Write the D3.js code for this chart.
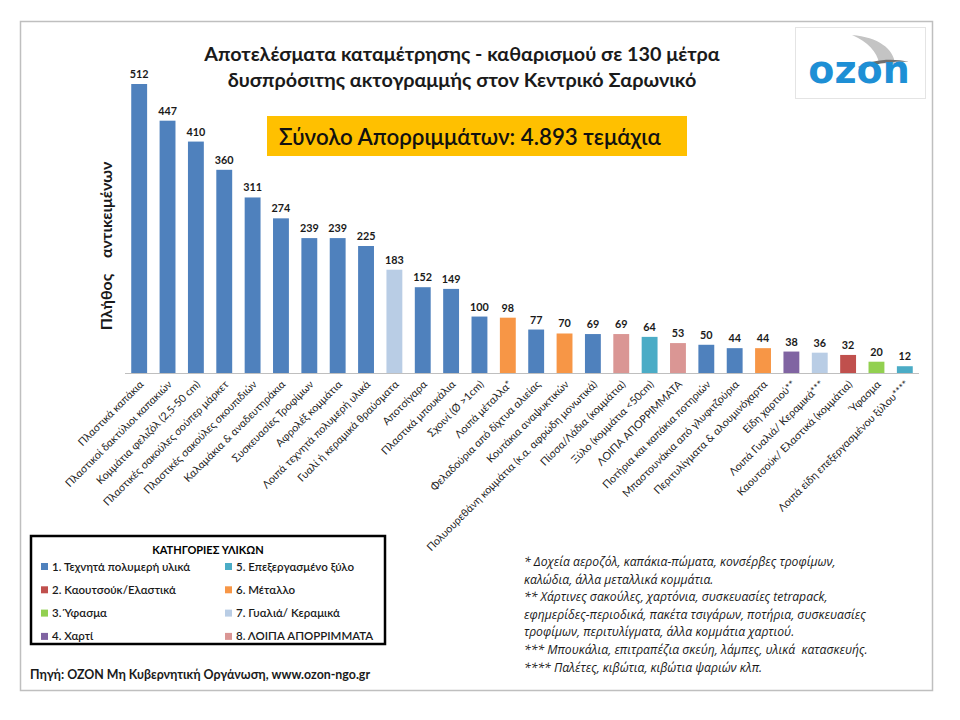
<!DOCTYPE html>
<html>
<head>
<meta charset="utf-8">
<script src="https://cdn.jsdelivr.net/npm/d3@7"></script>
<style>
  body { margin: 0; background: #fff; }
  svg { font-family: Lato, "Open Sans", sans-serif; }
</style>
</head>
<body>
<svg id="chart" width="960" height="720"></svg>
<script>
// --- data ---
const items = [
  "Πλαστικά καπάκια", "Πλαστικοί δακτύλιοι καπακιών", "Κομμάτια φελιζόλ (2,5-50 cm)",
  "Πλαστικές σακούλες σούπερ μάρκετ", "Πλαστικές σακούλες σκουπιδιών", "Καλαμάκια  & αναδευτηράκια",
  "Συσκευασίες Τροφίμων", "Αφρολέξ κομμάτια", "Λοιπά τεχνητά πολυμερή υλικά",
  "Γυαλί ή κεραμικά θραύσματα", "Αποτσίγαρα", "Πλαστικά μπουκάλια", "Σχοινί (Ø >1cm)",
  "Λοιπά μέταλλα*", "Φελαδούρια από δίχτυα αλιείας", "Κουτάκια αναψυκτικών",
  "Πολυουρεθάνη κομμάτια (κ.α. αφρώδη μονωτικά)", "Πίσσα/Λάδια (κομμάτια)",
  "Ξύλο (κομμάτια <50cm)", "ΛΟΙΠΑ ΑΠΟΡΡΙΜΜΑΤΑ", "Ποτήρια και καπάκια ποτηριών",
  "Μπαστουνάκια από γλυφιτζούρια", "Περιτυλίγματα & αλουμινόχαρτα", "Είδη χαρτιού**",
  "Λοιπά Γυαλιά/ Κεραμικά***", "Καουτσούκ/ Ελαστικά (κομμάτια)", "Ύφασμα",
  "Λοιπά είδη επεξεργασμένου ξύλου****"
];
const counts = [512, 447, 410, 360, 311, 274, 239, 239, 225, 183, 152, 149, 100, 98, 77,
  70, 69, 69, 64, 53, 50, 44, 44, 38, 36, 32, 20, 12];
// material category of each item (1..8)
const itemGroup = [1, 1, 1, 1, 1, 1, 1, 1, 1, 7, 1, 1, 1, 6, 1, 6, 1, 8, 5, 8, 1, 1, 6, 4, 7, 2, 3, 5];

const groups = [
  "1. Τεχνητά πολυμερή υλικά", "2. Καουτσούκ/Ελαστικά", "3. Ύφασμα", "4. Χαρτί",
  "5. Επεξεργασμένο ξύλο", "6. Μέταλλο", "7. Γυαλιά/ Κεραμικά", "8. ΛΟΙΠΑ ΑΠΟΡΡΙΜΜΑΤΑ"
];
const groupColors = ["#4F81BD", "#C0504D", "#92D050", "#8064A2", "#4BACC6", "#F79646", "#B9CDE5", "#DA9694"];

const titleLines = [
  "Αποτελέσματα καταμέτρησης - καθαρισμού σε 130 μέτρα",
  "δυσπρόσιτης ακτογραμμής στον Κεντρικό Σαρωνικό"
];
const totalText = "Σύνολο Απορριμμάτων: 4.893 τεμάχια";
const notes = [
  "* Δοχεία αεροζόλ, καπάκια-πώματα, κονσέρβες τροφίμων,",
  "καλώδια, άλλα μεταλλικά κομμάτια.",
  "** Χάρτινες σακούλες, χαρτόνια, συσκευασίες tetrapack,",
  "εφημερίδες-περιοδικά, πακέτα τσιγάρων, ποτήρια, συσκευασίες",
  "τροφίμων, περιτυλίγματα, άλλα κομμάτια χαρτιού.",
  "*** Μπουκάλια, επιτραπέζια σκεύη, λάμπες, υλικά  κατασκευής.",
  "**** Παλέτες, κιβώτια, κιβώτια ψαριών κλπ."
];
const sourceText = "Πηγή: ΟΖΟΝ Μη Κυβερνητική Οργάνωση, www.ozon-ngo.gr";

const svg = d3.select("#chart");

// slide frame
svg.append("rect")
  .attr("x", 20.5).attr("y", 21.5).attr("width", 912).attr("height", 669)
  .attr("fill", "none").attr("stroke", "#BFBFBF").attr("stroke-width", 1.5);

// logo
const logo = svg.append("g");
logo.append("rect")
  .attr("x", 795.5).attr("y", 27.5).attr("width", 130).attr("height", 71)
  .attr("fill", "#fff").attr("stroke", "#E4E4E4");
logo.append("path")
  .attr("d", "M852,35 C878,37 894,49 895,64 L879,63 C877,52 868,42 852,35 Z")
  .attr("fill", "#C4C4C4");
logo.append("path")
  .attr("d", "M858,67 C874,59 893,58 909,62 C893,61 876,63 862,69 Z")
  .attr("fill", "#6F6F6F");
logo.append("text")
  .attr("x", 859).attr("y", 83)
  .attr("text-anchor", "middle")
  .attr("font-family", "'DejaVu Sans', sans-serif")
  .attr("font-weight", "bold").attr("font-size", 38)
  .attr("fill", "#1E8FD5")
  .text("ozon");

// title
svg.append("g").selectAll("text")
  .data(titleLines)
  .join("text")
  .attr("x", 462).attr("y", (d, i) => 61 + i * 26)
  .attr("text-anchor", "middle")
  .attr("font-weight", "bold").attr("font-size", 19.8)
  .attr("fill", "#1a1a1a")
  .text(d => d);

// total box
svg.append("rect")
  .attr("x", 267).attr("y", 116).attr("width", 420).attr("height", 40)
  .attr("fill", "#FFC000");
svg.append("text")
  .attr("x", 279).attr("y", 145)
  .attr("font-size", 22.3).attr("font-weight", 600)
  .attr("fill", "#111")
  .text(totalText);

// --- bar chart ---
const x = d3.scaleBand()
  .domain(items)
  .range([125, 919])
  .paddingInner(0.44)
  .paddingOuter(0.22);

const y = d3.scaleLinear()
  .domain([0, 512])
  .range([373, 84]);

const plot = svg.append("g");

plot.selectAll("rect.bar")
  .data(items)
  .join("rect")
  .attr("class", "bar")
  .attr("x", d => x(d))
  .attr("width", x.bandwidth())
  .attr("y", (d, i) => y(counts[i]))
  .attr("height", (d, i) => y(0) - y(counts[i]))
  .attr("fill", (d, i) => groupColors[itemGroup[i] - 1]);

plot.selectAll("text.val")
  .data(items)
  .join("text")
  .attr("class", "val")
  .attr("x", d => x(d) + x.bandwidth() / 2)
  .attr("y", (d, i) => y(counts[i]) - 6)
  .attr("text-anchor", "middle")
  .attr("font-weight", "bold").attr("font-size", 10.8)
  .attr("fill", "#1a1a1a")
  .text((d, i) => counts[i]);

// x axis line and rotated labels
const xAxis = d3.axisBottom(x).tickSize(0).tickPadding(0);
const gx = plot.append("g")
  .attr("transform", `translate(0,${y(0)})`)
  .call(xAxis);
gx.select(".domain").attr("stroke", "#BFBFBF").attr("stroke-width", 1.2)
  .attr("d", "M125,0.5H919");
gx.selectAll(".tick text")
  .attr("font-family", "Lato, 'Open Sans', sans-serif")
  .attr("font-size", 10.7)
  .attr("fill", "#222")
  .attr("text-anchor", "end")
  .attr("dy", null)
  .attr("transform", "translate(5,12) rotate(-45)");

// y title
svg.append("text")
  .attr("transform", "translate(112,246) rotate(-90)")
  .attr("text-anchor", "middle")
  .attr("font-weight", "bold").attr("font-size", 16)
  .attr("fill", "#1a1a1a")
  .attr("xml:space", "preserve")
  .text("Πλήθος    αντικειμένων");

// --- legend ---
const legend = svg.append("g");
legend.append("rect")
  .attr("x", 31).attr("y", 536).attr("width", 354).attr("height", 108)
  .attr("fill", "#fff").attr("stroke", "#000").attr("stroke-width", 2.5);
legend.append("text")
  .attr("x", 208).attr("y", 554)
  .attr("text-anchor", "middle")
  .attr("font-weight", "bold").attr("font-size", 11)
  .text("ΚΑΤΗΓΟΡΙΕΣ ΥΛΙΚΩΝ");
const li = legend.selectAll("g.item")
  .data(groups)
  .join("g")
  .attr("class", "item")
  .attr("transform", (d, i) => `translate(${i < 4 ? 41 : 225},${567 + (i % 4) * 23.3})`);
li.append("rect")
  .attr("x", 0).attr("y", -4).attr("width", 7).attr("height", 7)
  .attr("fill", (d, i) => groupColors[i]);
li.append("text")
  .attr("x", 11).attr("y", 3.5)
  .attr("font-size", 11.5).attr("font-weight", 600)
  .attr("fill", "#1a1a1a")
  .text(d => d);

// source
svg.append("text")
  .attr("x", 30).attr("y", 679)
  .attr("font-weight", "bold").attr("font-size", 12.4)
  .attr("fill", "#1a1a1a")
  .text(sourceText);

// footnotes
svg.append("g").selectAll("text")
  .data(notes)
  .join("text")
  .attr("x", 524).attr("y", (d, i) => 566 + i * 17.6)
  .attr("font-family", "'Open Sans', sans-serif")
  .attr("font-style", "italic").attr("font-size", 12.2)
  .attr("fill", "#1a1a1a")
  .attr("xml:space", "preserve")
  .text(d => d);
</script>
</body>
</html>
